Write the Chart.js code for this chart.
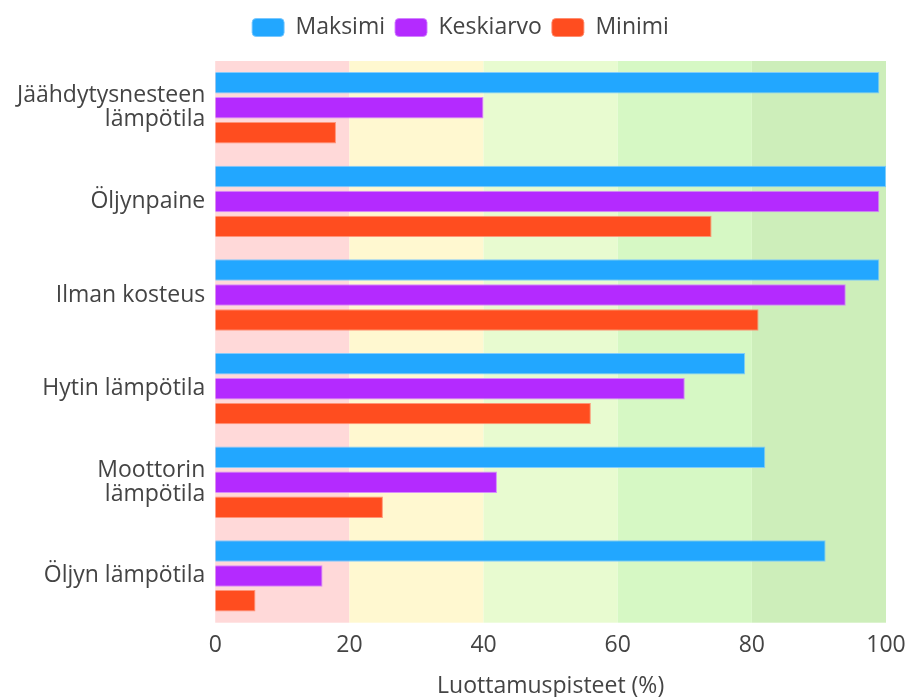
<!DOCTYPE html>
<html>
<head>
<meta charset="utf-8">
<script src="https://cdn.jsdelivr.net/npm/chart.js@4/dist/chart.umd.min.js"></script>
<style>
  html, body { margin: 0; padding: 0; background: #ffffff; }
  #wrap { width: 909px; height: 697px; }
</style>
</head>
<body>
<div id="wrap"><canvas id="c"></canvas></div>
<script>
// Sensors (y-axis categories)
const categories = [
  ["Jäähdytysnesteen", "lämpötila"],
  "Öljynpaine",
  "Ilman kosteus",
  "Hytin lämpötila",
  ["Moottorin", "lämpötila"],
  "Öljyn lämpötila"
];

// Confidence scores per sensor (%)
const maksimi   = [99, 100, 99, 79, 82, 91];
const keskiarvo = [40, 99, 94, 70, 42, 16];
const minimi    = [18, 74, 81, 56, 25, 6];

// Score zones behind the bars
const zoneEdges  = [0, 20, 40, 60, 80, 100];
const zoneColors = ["#ffd9d9", "#fff8d0", "#e8fbd0", "#d6f8c4", "#cdeeba"];

const xTicks = [0, 20, 40, 60, 80, 100];

const zonePlugin = {
  id: "zones",
  beforeDatasetsDraw(chart) {
    const { ctx, chartArea, scales } = chart;
    const x = scales.x;
    ctx.save();
    for (let i = 0; i < zoneColors.length; i++) {
      const x0 = x.getPixelForValue(zoneEdges[i]);
      const x1 = x.getPixelForValue(zoneEdges[i + 1]);
      ctx.fillStyle = zoneColors[i];
      ctx.fillRect(x0, chartArea.top, x1 - x0, chartArea.bottom - chartArea.top);
    }
    ctx.restore();
  }
};

// Extra gap below the legend, and the legend nudged right
const legendPlacement = {
  id: "legendPlacement",
  beforeInit(chart) {
    const fit = chart.legend.fit;
    chart.legend.fit = function () {
      fit.call(this);
      this.height += 12;
    };
  },
  afterLayout(chart) {
    chart.legend.left += 14;
    chart.legend.right += 14;
  }
};

Chart.defaults.font.family = "'Open Sans', 'Noto Sans', sans-serif";
Chart.defaults.color = "#444444";

new Chart(document.getElementById("c"), {
  type: "bar",
  data: {
    labels: categories,
    datasets: [
      { label: "Maksimi",   data: maksimi,   backgroundColor: "#22a7ff", borderColor: "rgba(120,200,255,0.9)", borderWidth: 1 },
      { label: "Keskiarvo", data: keskiarvo, backgroundColor: "#b42aff", borderColor: "rgba(210,130,255,0.9)", borderWidth: 1 },
      { label: "Minimi",    data: minimi,    backgroundColor: "#ff4d1f", borderColor: "rgba(255,140,110,0.9)", borderWidth: 1 }
    ]
  },
  options: {
    indexAxis: "y",
    responsive: true,
    maintainAspectRatio: false,
    animation: false,
    layout: { padding: { left: 7, right: 23, top: 6, bottom: 0 } },
    categoryPercentage: 0.8,
    barPercentage: 0.86,
    plugins: {
      legend: {
        position: "top",
        labels: {
          boxWidth: 32,
          boxHeight: 18,
          useBorderRadius: true,
          borderRadius: 4,
          padding: 10,
          color: "#444444",
          font: { size: 23 }
        }
      },
      tooltip: { enabled: false }
    },
    scales: {
      x: {
        min: 0,
        max: 100,
        afterBuildTicks(scale) { scale.ticks = xTicks.map(v => ({ value: v })); },
        afterFit(scale) { scale.paddingRight = 0; },
        grid: { display: false, drawTicks: false },
        border: { display: false },
        ticks: { font: { size: 23 }, color: "#444444", padding: 8.5 },
        title: {
          display: true,
          text: "Luottamuspisteet (%)",
          font: { size: 23, lineHeight: 0.9 },
          color: "#444444",
          padding: { top: 9, bottom: 0 }
        }
      },
      y: {
        grid: { display: false, drawTicks: false },
        border: { display: false },
        ticks: { font: { size: 23, lineHeight: 1.05 }, color: "#444444", padding: 10 }
      }
    }
  },
  plugins: [zonePlugin, legendPlacement]
});
</script>
</body>
</html>
